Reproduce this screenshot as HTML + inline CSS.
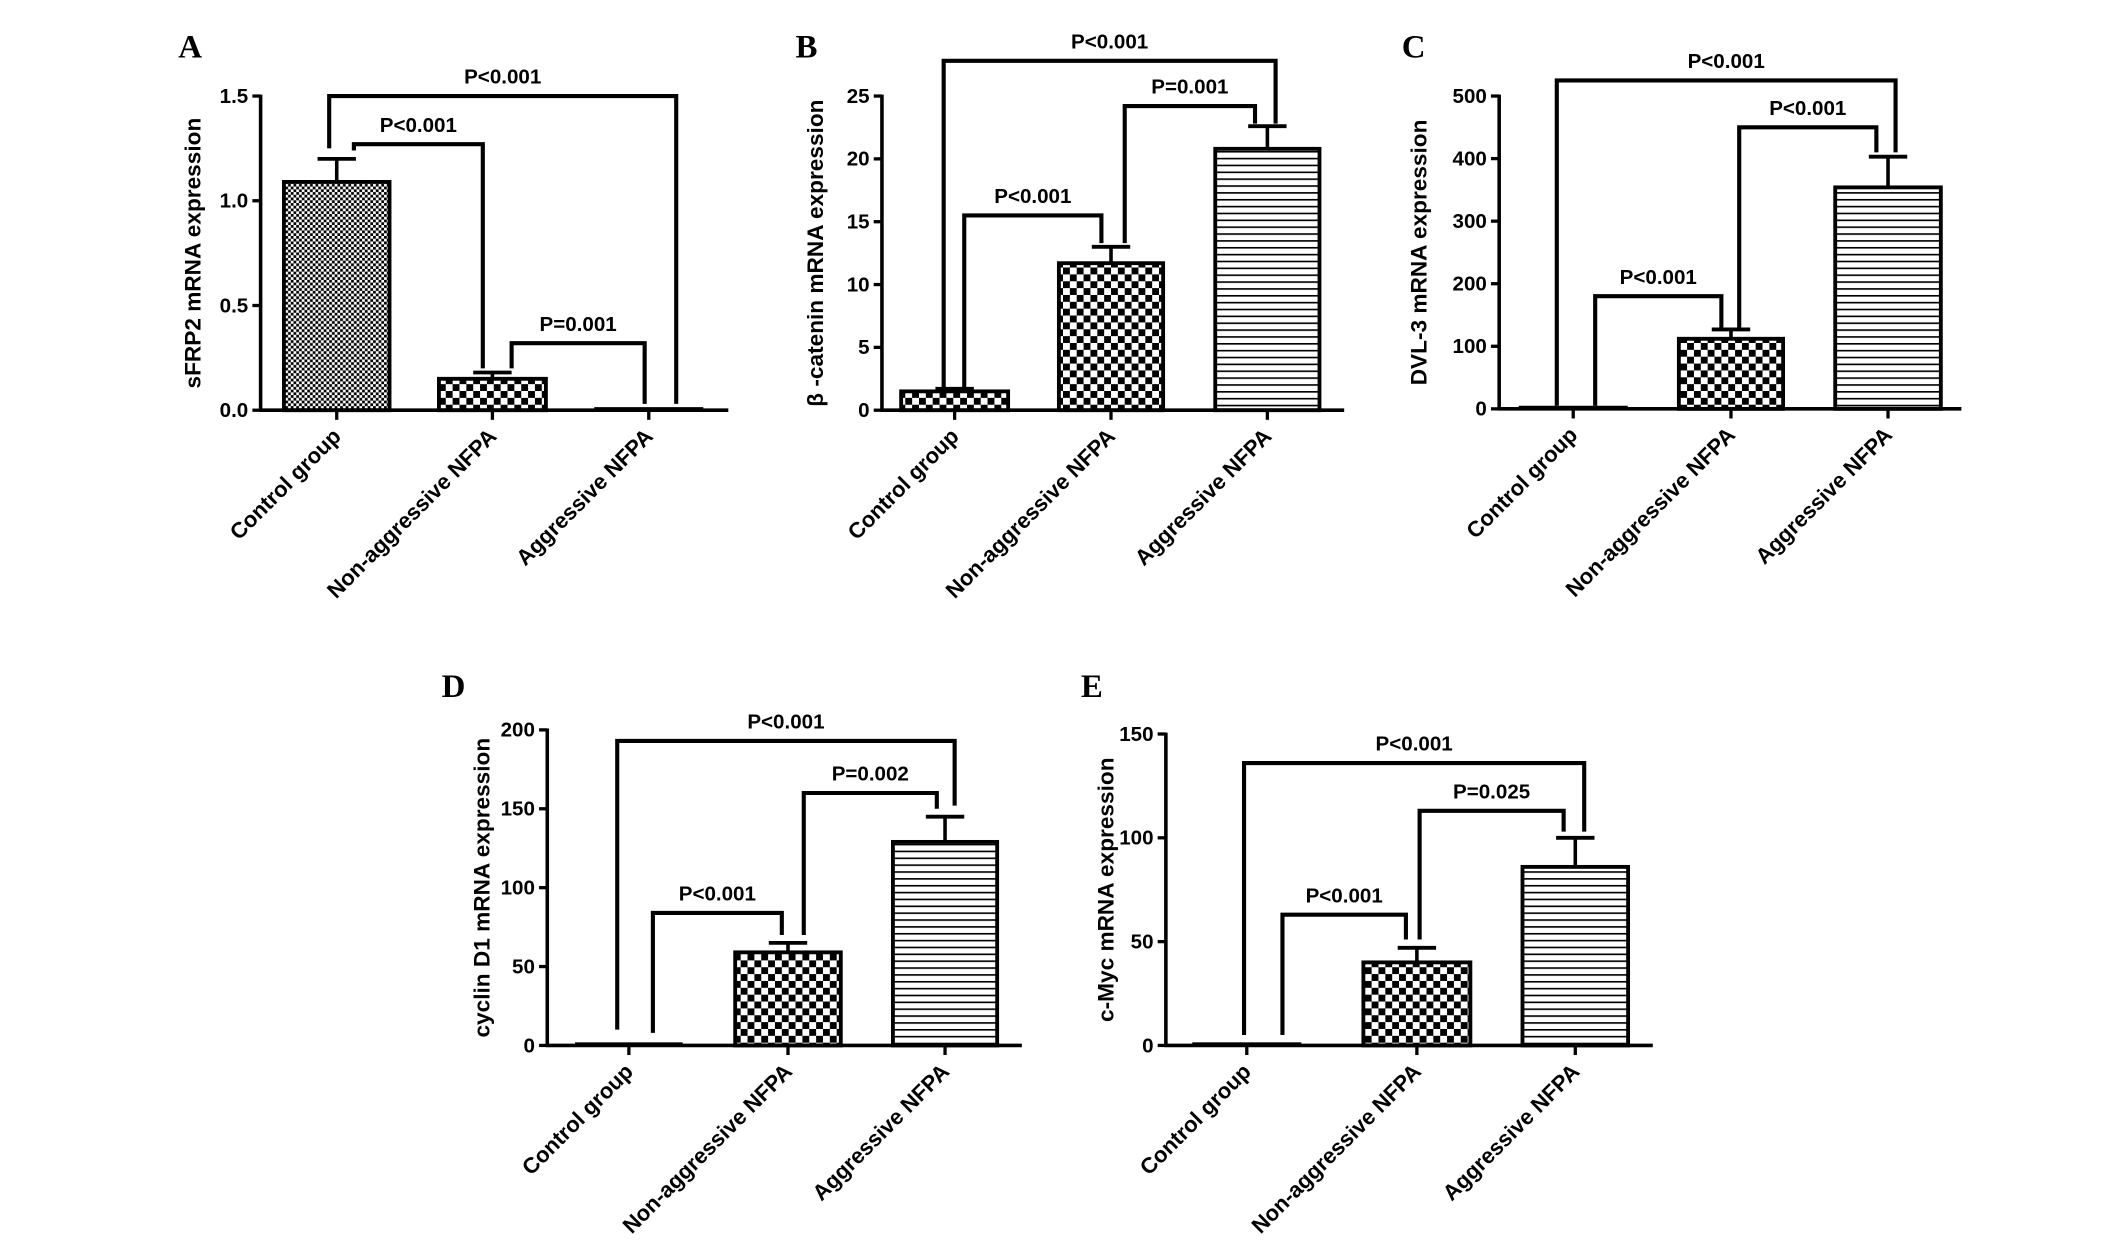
<!DOCTYPE html>
<html><head><meta charset="utf-8">
<style>
html,body{margin:0;padding:0;background:#fff;}
svg{display:block;}
text{font-family:"Liberation Sans",Arial,sans-serif;font-weight:bold;fill:#000;}
.letter{font-family:"Liberation Serif",serif;font-size:24px;}
</style></head>
<body>
<svg id="chart" width="2126" height="1243" viewBox="0 0 1550 906" preserveAspectRatio="none" xmlns="http://www.w3.org/2000/svg">
<defs>
<pattern id="fine" width="4" height="4" patternUnits="userSpaceOnUse"><rect width="4" height="4" fill="#fff"/><rect width="2" height="2" fill="#000"/><rect x="2" y="2" width="2" height="2" fill="#000"/></pattern>
<pattern id="check" width="10" height="10" patternUnits="userSpaceOnUse"><rect width="10" height="10" fill="#fff"/><rect width="5" height="5" fill="#000"/><rect x="5" y="5" width="5" height="5" fill="#000"/></pattern>
<pattern id="hlines" width="6" height="5" patternUnits="userSpaceOnUse"><rect width="6" height="5" fill="#fff"/><rect y="0" width="6" height="1.2" fill="#000"/></pattern>
</defs>
</svg>
<script>
const categories = ["Control group", "Non-aggressive NFPA", "Aggressive NFPA"];
const panelLetters = ["A","B","C","D","E"];
const yTitles = ["sFRP2 mRNA expression","\u03b2 -catenin mRNA expression","DVL-3 mRNA expression","cyclin D1 mRNA expression","c-Myc mRNA expression"];
const yTicksA = [0, 0.5, 1.0, 1.5];
const yTickLabelsA = ["0.0","0.5","1.0","1.5"];
const yTicksB = [0,5,10,15,20,25];
const yTicksC = [0,100,200,300,400,500];
const yTicksD = [0,50,100,150,200];
const yTicksE = [0,50,100,150];
const meansA = [1.09, 0.15, 0.005];
const errA = [0.11, 0.03, 0.002];
const meansB = [1.5, 11.7, 20.8];
const errB = [0.2, 1.3, 1.8];
const meansC = [2, 112, 354];
const errC = [0.5, 15, 49];
const meansD = [1, 59, 129];
const errD = [0.2, 6, 16];
const meansE = [1, 40, 86];
const errE = [0.2, 7, 14];
const bracketLabels = [
 ["P<0.001","P<0.001","P=0.001"],
 ["P<0.001","P=0.001","P<0.001"],
 ["P<0.001","P<0.001","P<0.001"],
 ["P<0.001","P=0.002","P<0.001"],
 ["P<0.001","P=0.025","P<0.001"]];
const bracketTops = [[1.5,1.27,0.32],[27.8,24.2,15.5],[525,450,180],[193,160,84],[136,113,63]];
const bracketFeetL = [[1.25,1.24,0.2],[1.5,13.3,1.8],[5,130,5],[10,70,8],[5,51,5]];
const bracketFeetR = [[0.03,0.2,0.03],[22.8,22.8,13.3],[410,410,130],[152,150,70],[103,103,51]];

const layouts = [
 {ax:190, y0:299, yTop:70, max:1.5, x1:531, bars:[[207,284],[320,398],[434,512]], lx:130, ly:52, tx:143, bx:[[240,493],[258,352],[373,470]]},
 {ax:643, y0:299, yTop:70, max:25, x1:980, bars:[[657,735],[772,848],[886,962]], lx:580, ly:52, tx:600, bx:[[688,930],[820,915],[703,803]]},
 {ax:1093, y0:298, yTop:70, max:500, x1:1430, bars:[[1108,1186],[1224,1300],[1338,1415]], lx:1022, ly:52, tx:1040, bx:[[1135,1382],[1268,1368],[1163,1255]]},
 {ax:399, y0:762, yTop:532, max:200, x1:745, bars:[[420,497],[536,613],[651,727]], lx:322, ly:518, tx:357, bx:[[450,696],[586,683],[476,570]]},
 {ax:850, y0:762, yTop:535, max:150, x1:1205, bars:[[870,948],[994,1072],[1110,1187]], lx:788, ly:518, tx:812, bx:[[907,1155],[1035,1140],[935,1025]]}
];
const allTicks = [yTicksA,yTicksB,yTicksC,yTicksD,yTicksE];
const allMeans = [meansA,meansB,meansC,meansD,meansE];
const allErr = [errA,errB,errC,errD,errE];
const fills = [["url(#fine)","url(#check)","url(#hlines)"],["url(#check)","url(#check)","url(#hlines)"],["url(#check)","url(#check)","url(#hlines)"],["url(#check)","url(#check)","url(#hlines)"],["url(#check)","url(#check)","url(#hlines)"]];

const svg = document.getElementById('chart');
const NS = "http://www.w3.org/2000/svg";
function el(tag, attrs, parent){const e=document.createElementNS(NS,tag);for(const k in attrs)e.setAttribute(k,attrs[k]);(parent||svg).appendChild(e);return e;}
function line(g,x1,y1,x2,y2,w){return el('line',{x1,y1,x2,y2,stroke:'#000','stroke-width':w||2.6},g);}

layouts.forEach((L,p)=>{
  const g = el('g',{});
  
  
  const ys = v => L.y0 - (v/L.max)*(L.y0-L.yTop);
  const t = el('text',{x:L.lx,y:L.ly-10,class:'letter'},g); t.textContent=panelLetters[p];
  
  
  const ya = line(g,L.ax,L.yTop-1,L.ax,L.y0+1,2.6);
  
  
  allTicks[p].forEach((v,i)=>{
    const y=ys(v);
    line(g,L.ax-6,y,L.ax,y,2.4);
    const tl=el('text',{x:L.ax-9,y:y+5,'text-anchor':'end','font-size':15},g);
    tl.textContent = p===0 ? yTickLabelsA[i] : String(v);
    
    
  });
  const yt=el('text',{transform:`translate(${L.tx+(p===0?3:0)},${(L.y0+L.yTop)/2}) rotate(-90)`,'text-anchor':'middle','font-size':16.5},g);
  yt.textContent=yTitles[p];
  
  
  L.bars.forEach((b,i)=>{
    const m=allMeans[p][i], e=allErr[p][i];
    const top=ys(m), cx=(b[0]+b[1])/2;
    const bh=Math.max(L.y0-top,1.5);
    const r=el('rect',{x:b[0],y:L.y0-bh,width:b[1]-b[0],height:bh,fill:fills[p][i],stroke:'#000','stroke-width':bh>4?2.8:1.5},g);
    
    
    if(bh>4){
      const et=ys(m+e);
      line(g,cx,top,cx,et,2.6);
      line(g,cx-14,et,cx+14,et,2.8);
    }
    line(g,cx,L.y0,cx,L.y0+7,2.4);
    const cl=el('text',{transform:`translate(${cx+4},${L.y0+20}) rotate(-45)`,'text-anchor':'end','font-size':16},g);
    cl.textContent=categories[i];
    
    
  });
  const xa=line(g,L.ax-1,L.y0,L.x1,L.y0,2.6);
  
  
  for(let k=0;k<3;k++){
    const [xl,xr]=L.bx[k];
    const yt2=ys(bracketTops[p][k]);
    const pth=el('path',{d:`M${xl},${ys(bracketFeetL[p][k])} L${xl},${yt2} L${xr},${yt2} L${xr},${ys(bracketFeetR[p][k])}`,fill:'none',stroke:'#000','stroke-width':3},g);
    
    
    const lb=el('text',{x:(xl+xr)/2,y:yt2-9,'text-anchor':'middle','font-size':15},g);
    lb.textContent=bracketLabels[p][k];
    
    
  }
});
</script>
</body></html>
